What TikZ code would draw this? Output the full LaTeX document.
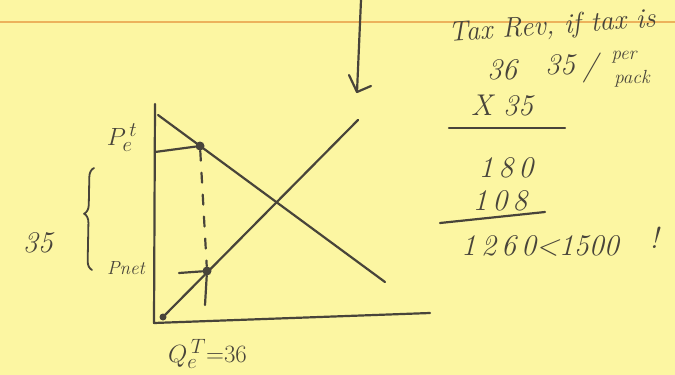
\documentclass[tikz,border=0pt]{standalone}
\usetikzlibrary{decorations.pathreplacing}
\definecolor{pad}{RGB}{252,246,162}
\definecolor{padrule}{RGB}{236,178,92}
\definecolor{ink}{RGB}{72,68,58}

\begin{document}
\begin{tikzpicture}[
    x=1pt, y=-1pt,
    pen/.style={
        draw=ink,
        line width=2.2pt,
        line cap=round,
        line join=round
    },
    hand/.style={
        text=ink,
        inner sep=0pt,
        font=\itshape\fontsize{30}{32}\selectfont
    },
    smallhand/.style={
        hand,
        font=\itshape\fontsize{19}{20}\selectfont
    },
    dot/.style={circle, fill=ink, inner sep=0pt, minimum size=9pt}
]

% Paper
\useasboundingbox (0,0) rectangle (675,375);
\fill[pad] (0,0) rectangle (675,375);
\draw[padrule, line width=1.2pt] (0,22) -- (675,22);

% Arrow from above
\coordinate (arrtop) at (361,0);
\coordinate (arrtip) at (357,92);
\coordinate (arrl) at (349,75);
\coordinate (arrr) at (371,86);
\draw[pen] (arrtop) -- (arrtip);
\draw[pen] (arrl) -- (arrtip) -- (arrr);

% Axes
\coordinate (ytop) at (155,104);
\coordinate (orig) at (154,323);
\coordinate (xend) at (430,313);
\draw[pen] (ytop) -- (orig) -- (xend);

% Demand
\coordinate (dtop) at (158,115);
\coordinate (dend) at (385,282);
\draw[pen] (dtop) -- (dend);

% Supply
\coordinate (sbot) at (163,317);
\coordinate (stop) at (358,120);
\draw[pen] (sbot) -- (stop);

% Points
\node (pup) [dot] at (200,146) {};
\node (plow) [dot] at (207,271) {};
\node (pstart) [dot, minimum size=7pt] at (sbot) {};

% Price lines
\coordinate (yup) at (155,152);
\coordinate (lowtick) at (179,273);
\coordinate (qfoot) at (205,305);
\draw[pen] (yup) -- (pup);
\draw[pen] (lowtick) -- (plow);
\draw[pen, dash pattern=on 10pt off 12pt] (pup) -- (plow);
\draw[pen] (plow) -- (qfoot);

% Labels on the graph
\node (pet) [hand] at (122,138) {$P_e^{\,t}$};
\node (pnet) [smallhand] at (126,268) {Pnet};
\node (gap) [hand] at (38,243) {35};
\node (qet) [hand, anchor=west] at (168,354) {$Q_e^{\,T}{=}36$};
\draw[pen, line width=1.8pt, decorate,
      decoration={brace, amplitude=9pt, aspect=0.55}]
    (92,270) -- (94,168);

% Tax revenue sum
\node (taxrev) [hand, rotate=4, font=\itshape\fontsize{28}{30}\selectfont] at (552,27) {Tax Rev, if tax is};
\node (n36) [hand] at (502,70) {36};
\node (n35) [hand] at (560,65) {35};
\node (slash) [hand] at (590,68) {/};
\node (per) [smallhand] at (624,57) {per};
\node (pack) [smallhand] at (632,79) {pack};
\node (x35) [hand] at (502,106) {X 35};
\coordinate (rulea) at (449,128);
\coordinate (ruleb) at (565,128);
\draw[pen] (rulea) -- (ruleb);
\node (n180) [hand] at (506,168) {1\,8\,0};
\node (n108) [hand] at (500,201) {1\,0\,8};
\coordinate (rulec) at (440,223);
\coordinate (ruled) at (545,212);
\draw[pen] (rulec) -- (ruled);
\node (total) [hand] at (540,246) {1\,2\,6\,0<1500};
\node (bang) [hand] at (654,238) {!};

\end{tikzpicture}
\end{document}
